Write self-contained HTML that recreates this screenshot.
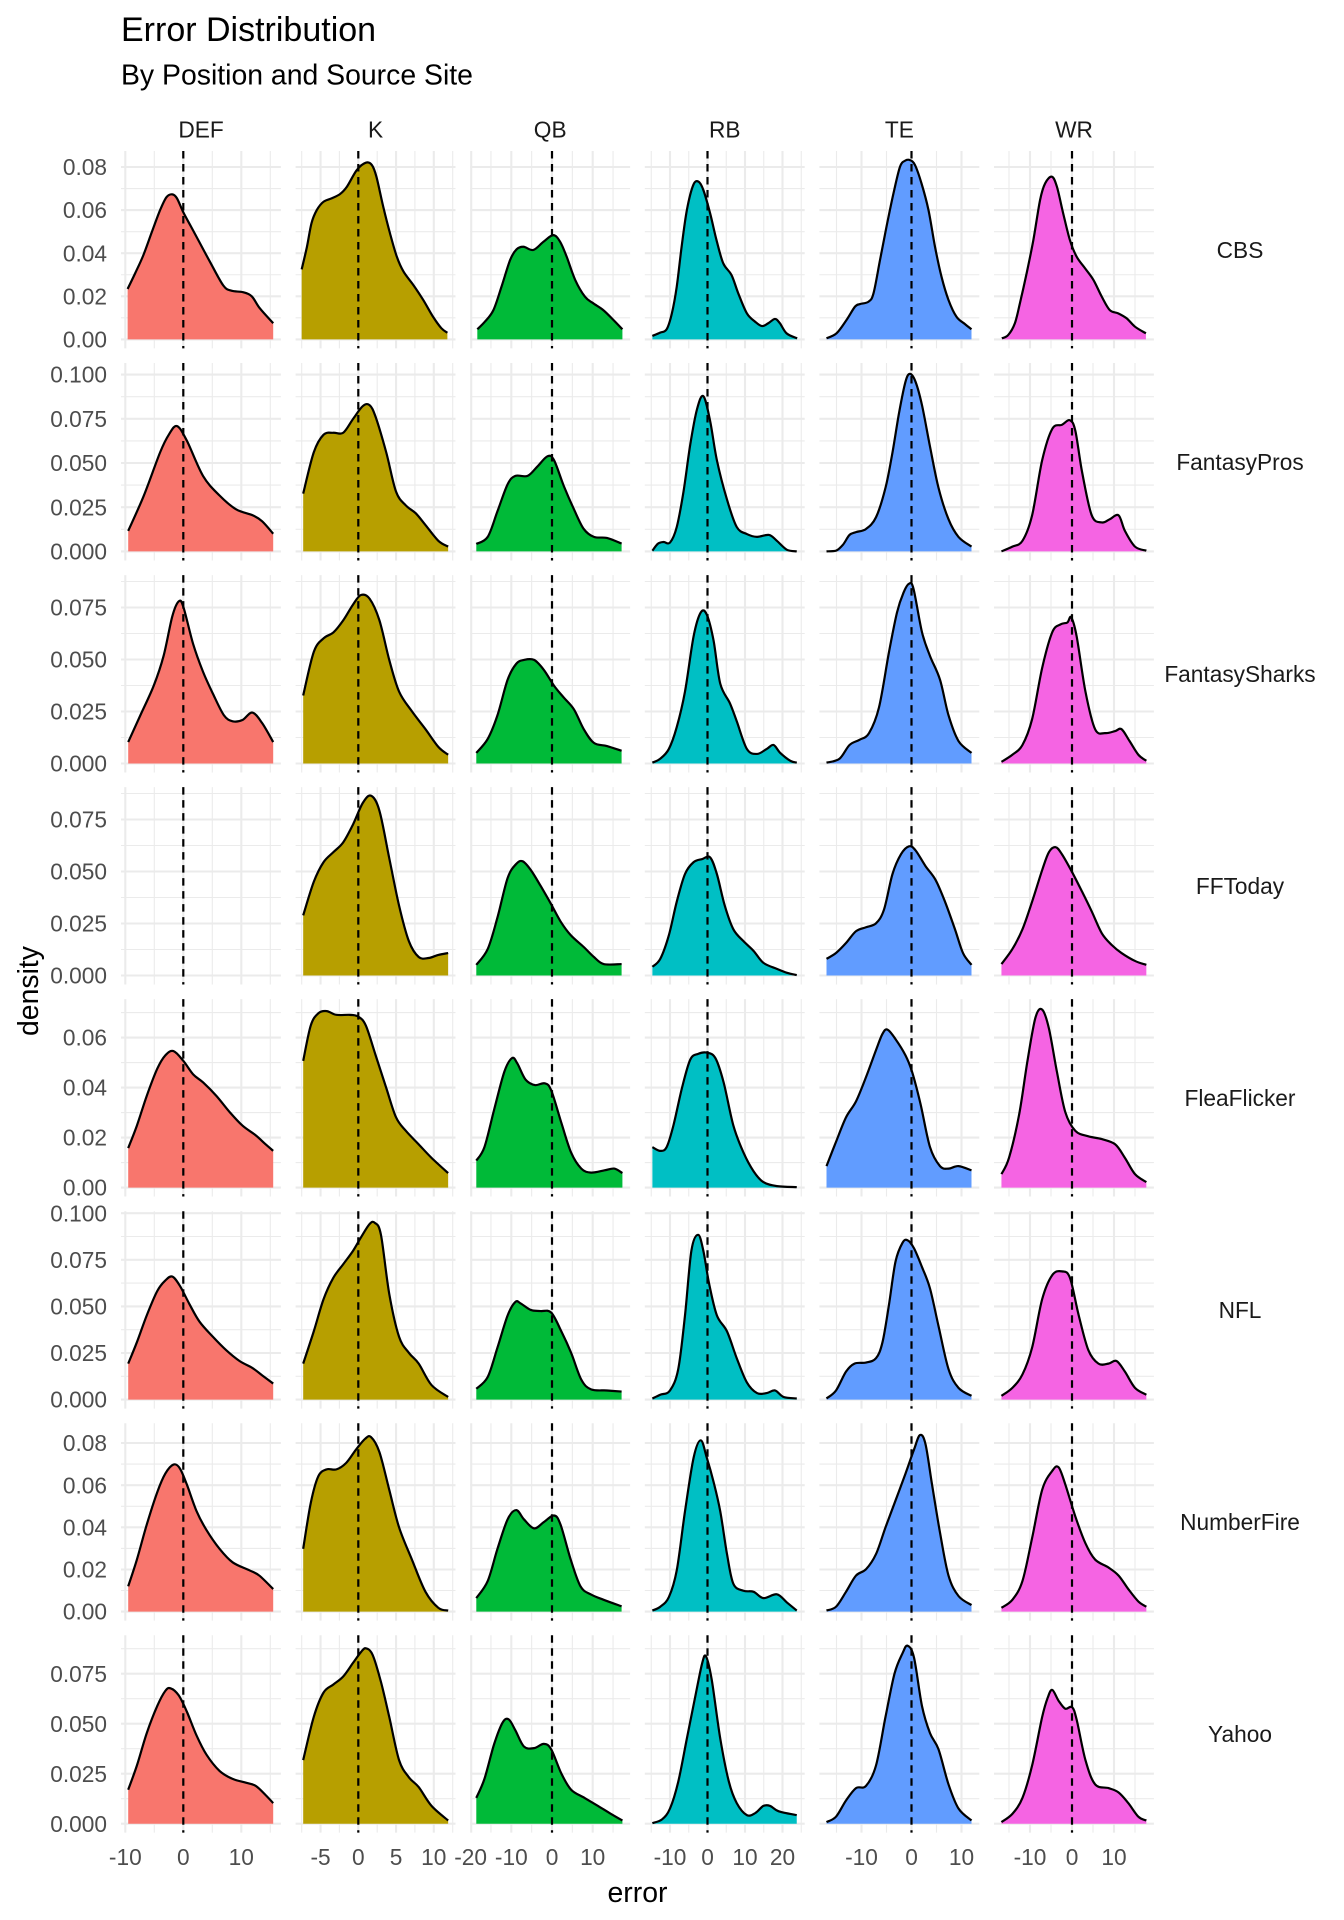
<!DOCTYPE html>
<html>
<head>
<meta charset="utf-8">
<style>
html,body{margin:0;padding:0;background:#fff;}
svg{display:block;}
text{font-family:"Liberation Sans",Arial,sans-serif;}
.c0{fill:#F8766D}.c1{fill:#B79F00}.c2{fill:#00BA38}.c3{fill:#00BFC4}.c4{fill:#619CFF}.c5{fill:#F564E3}
.o{fill:none;stroke:#000;stroke-width:2.2;vector-effect:non-scaling-stroke;stroke-linejoin:round}
.vmaj{stroke:#EBEBEB;stroke-width:2.1;stroke-dasharray:197.4 14.64}
.vmin{stroke:#EBEBEB;stroke-width:1.1;stroke-dasharray:197.4 14.64}
.hmaj{stroke:#EBEBEB;stroke-width:2.1;stroke-dasharray:159.9 14.7}
.hmin{stroke:#EBEBEB;stroke-width:1.1;stroke-dasharray:159.9 14.7}
.dz{stroke:#000;stroke-width:2.2;stroke-dasharray:7.5 5.5}
.yt{font-size:22.7px;fill:#4D4D4D;text-anchor:end}
.xt{font-size:22.7px;fill:#4D4D4D;text-anchor:middle}
.st{font-size:22.7px;fill:#1A1A1A;text-anchor:middle}
</style>
</head>
<body>
<svg id="chart" width="1344" height="1920" viewBox="0 0 1344 1920" xmlns="http://www.w3.org/2000/svg">
<rect width="1344" height="1920" fill="#fff"/>

<!-- vertical minor gridlines -->
<g class="vmin">
<line x1="154.3" y1="151" x2="154.3" y2="1834"/><line x1="212.3" y1="151" x2="212.3" y2="1834"/><line x1="270.3" y1="151" x2="270.3" y2="1834"/>
<line x1="301.7" y1="151" x2="301.7" y2="1834"/><line x1="339.4" y1="151" x2="339.4" y2="1834"/><line x1="377.2" y1="151" x2="377.2" y2="1834"/><line x1="414.9" y1="151" x2="414.9" y2="1834"/><line x1="452.7" y1="151" x2="452.7" y2="1834"/>
<line x1="490.95" y1="151" x2="490.95" y2="1834"/><line x1="531.65" y1="151" x2="531.65" y2="1834"/><line x1="572.35" y1="151" x2="572.35" y2="1834"/><line x1="613.05" y1="151" x2="613.05" y2="1834"/>
<line x1="651.25" y1="151" x2="651.25" y2="1834"/><line x1="688.75" y1="151" x2="688.75" y2="1834"/><line x1="726.25" y1="151" x2="726.25" y2="1834"/><line x1="763.75" y1="151" x2="763.75" y2="1834"/><line x1="801.25" y1="151" x2="801.25" y2="1834"/>
<line x1="836.5" y1="151" x2="836.5" y2="1834"/><line x1="886.5" y1="151" x2="886.5" y2="1834"/><line x1="936.5" y1="151" x2="936.5" y2="1834"/>
<line x1="1009" y1="151" x2="1009" y2="1834"/><line x1="1051" y1="151" x2="1051" y2="1834"/><line x1="1093" y1="151" x2="1093" y2="1834"/><line x1="1135" y1="151" x2="1135" y2="1834"/>
</g>
<!-- horizontal minor gridlines -->
<g class="hmin">
<line x1="121" y1="317.85" x2="1154" y2="317.85"/><line x1="121" y1="274.75" x2="1154" y2="274.75"/><line x1="121" y1="231.65" x2="1154" y2="231.65"/><line x1="121" y1="188.55" x2="1154" y2="188.55"/>
<line x1="121" y1="529.3" x2="1154" y2="529.3"/><line x1="121" y1="485.1" x2="1154" y2="485.1"/><line x1="121" y1="440.9" x2="1154" y2="440.9"/><line x1="121" y1="396.7" x2="1154" y2="396.7"/>
<line x1="121" y1="737.5" x2="1154" y2="737.5"/><line x1="121" y1="685.5" x2="1154" y2="685.5"/><line x1="121" y1="633.5" x2="1154" y2="633.5"/><line x1="121" y1="581.5" x2="1154" y2="581.5"/>
<line x1="121" y1="949.5" x2="1154" y2="949.5"/><line x1="121" y1="897.5" x2="1154" y2="897.5"/><line x1="121" y1="845.5" x2="1154" y2="845.5"/><line x1="121" y1="793.5" x2="1154" y2="793.5"/>
<line x1="121" y1="1162.6" x2="1154" y2="1162.6"/><line x1="121" y1="1112.6" x2="1154" y2="1112.6"/><line x1="121" y1="1062.6" x2="1154" y2="1062.6"/><line x1="121" y1="1012.6" x2="1154" y2="1012.6"/>
<line x1="121" y1="1376.3" x2="1154" y2="1376.3"/><line x1="121" y1="1329.7" x2="1154" y2="1329.7"/><line x1="121" y1="1283.1" x2="1154" y2="1283.1"/><line x1="121" y1="1236.5" x2="1154" y2="1236.5"/>
<line x1="121" y1="1590.5" x2="1154" y2="1590.5"/><line x1="121" y1="1548.4" x2="1154" y2="1548.4"/><line x1="121" y1="1506.3" x2="1154" y2="1506.3"/><line x1="121" y1="1464.1" x2="1154" y2="1464.1"/>
<line x1="121" y1="1798.7" x2="1154" y2="1798.7"/><line x1="121" y1="1748.7" x2="1154" y2="1748.7"/><line x1="121" y1="1698.7" x2="1154" y2="1698.7"/><line x1="121" y1="1648.7" x2="1154" y2="1648.7"/>
</g>
<!-- vertical major gridlines -->
<g class="vmaj">
<line x1="125.3" y1="151" x2="125.3" y2="1834"/><line x1="183.3" y1="151" x2="183.3" y2="1834"/><line x1="241.3" y1="151" x2="241.3" y2="1834"/>
<line x1="320.55" y1="151" x2="320.55" y2="1834"/><line x1="358.3" y1="151" x2="358.3" y2="1834"/><line x1="396.05" y1="151" x2="396.05" y2="1834"/><line x1="433.8" y1="151" x2="433.8" y2="1834"/>
<line x1="471.2" y1="151" x2="471.2" y2="1834"/><line x1="511.3" y1="151" x2="511.3" y2="1834"/><line x1="552" y1="151" x2="552" y2="1834"/><line x1="592.7" y1="151" x2="592.7" y2="1834"/>
<line x1="670" y1="151" x2="670" y2="1834"/><line x1="707.5" y1="151" x2="707.5" y2="1834"/><line x1="745" y1="151" x2="745" y2="1834"/><line x1="782.5" y1="151" x2="782.5" y2="1834"/>
<line x1="861.5" y1="151" x2="861.5" y2="1834"/><line x1="911.5" y1="151" x2="911.5" y2="1834"/><line x1="961.5" y1="151" x2="961.5" y2="1834"/>
<line x1="1030" y1="151" x2="1030" y2="1834"/><line x1="1072" y1="151" x2="1072" y2="1834"/><line x1="1114" y1="151" x2="1114" y2="1834"/>
</g>
<!-- horizontal major gridlines -->
<g class="hmaj">
<line x1="121" y1="339.4" x2="1154" y2="339.4"/><line x1="121" y1="296.3" x2="1154" y2="296.3"/><line x1="121" y1="253.2" x2="1154" y2="253.2"/><line x1="121" y1="210.1" x2="1154" y2="210.1"/><line x1="121" y1="167" x2="1154" y2="167"/>
<line x1="121" y1="551.4" x2="1154" y2="551.4"/><line x1="121" y1="507.2" x2="1154" y2="507.2"/><line x1="121" y1="463" x2="1154" y2="463"/><line x1="121" y1="418.8" x2="1154" y2="418.8"/><line x1="121" y1="374.6" x2="1154" y2="374.6"/>
<line x1="121" y1="763.5" x2="1154" y2="763.5"/><line x1="121" y1="711.5" x2="1154" y2="711.5"/><line x1="121" y1="659.5" x2="1154" y2="659.5"/><line x1="121" y1="607.5" x2="1154" y2="607.5"/>
<line x1="121" y1="975.5" x2="1154" y2="975.5"/><line x1="121" y1="923.5" x2="1154" y2="923.5"/><line x1="121" y1="871.5" x2="1154" y2="871.5"/><line x1="121" y1="819.5" x2="1154" y2="819.5"/>
<line x1="121" y1="1187.6" x2="1154" y2="1187.6"/><line x1="121" y1="1137.6" x2="1154" y2="1137.6"/><line x1="121" y1="1087.6" x2="1154" y2="1087.6"/><line x1="121" y1="1037.6" x2="1154" y2="1037.6"/>
<line x1="121" y1="1399.6" x2="1154" y2="1399.6"/><line x1="121" y1="1353" x2="1154" y2="1353"/><line x1="121" y1="1306.4" x2="1154" y2="1306.4"/><line x1="121" y1="1259.8" x2="1154" y2="1259.8"/><line x1="121" y1="1213.2" x2="1154" y2="1213.2"/>
<line x1="121" y1="1611.6" x2="1154" y2="1611.6"/><line x1="121" y1="1569.5" x2="1154" y2="1569.5"/><line x1="121" y1="1527.3" x2="1154" y2="1527.3"/><line x1="121" y1="1485.2" x2="1154" y2="1485.2"/><line x1="121" y1="1443" x2="1154" y2="1443"/>
<line x1="121" y1="1823.7" x2="1154" y2="1823.7"/><line x1="121" y1="1773.7" x2="1154" y2="1773.7"/><line x1="121" y1="1723.7" x2="1154" y2="1723.7"/><line x1="121" y1="1673.7" x2="1154" y2="1673.7"/>
</g>

<!-- ===== Row 0: CBS ===== -->
<g transform="translate(183.3,339.4) scale(5.8,-2.155)">
<path class="c0" d="M-9.6,0 L-9.6,23.4 -8.3,30.7 -6.9,39 -5.4,50 -4.0,60 -2.9,66 -1.9,67.3 -1.1,65.5 0,59 1.3,52.5 2.6,46 4.6,36 6.9,25 8.3,22.6 10.3,21.9 11.8,20 13.2,14.4 15.5,7.5 L15.5,0 Z"/>
<polyline class="o" points="-9.6,23.4 -8.3,30.7 -6.9,39 -5.4,50 -4.0,60 -2.9,66 -1.9,67.3 -1.1,65.5 0,59 1.3,52.5 2.6,46 4.6,36 6.9,25 8.3,22.6 10.3,21.9 11.8,20 13.2,14.4 15.5,7.5"/>
</g>
<g transform="translate(358.3,339.4) scale(7.55,-2.155)">
<path class="c1" d="M-7.5,0 L-7.5,32.5 -6.8,43 -6.2,53.9 -5.5,60 -4.6,63.9 -3.5,65.5 -2.4,67.5 -1.5,70.9 -0.2,78.6 1.0,82 1.8,80.9 2.4,75.5 3.3,61.6 4.2,49.2 5.1,38.4 6.0,31.4 7.3,25.2 8.6,18.3 9.9,10.5 11.0,5.2 11.8,3.1 L11.8,0 Z"/>
<polyline class="o" points="-7.5,32.5 -6.8,43 -6.2,53.9 -5.5,60 -4.6,63.9 -3.5,65.5 -2.4,67.5 -1.5,70.9 -0.2,78.6 1.0,82 1.8,80.9 2.4,75.5 3.3,61.6 4.2,49.2 5.1,38.4 6.0,31.4 7.3,25.2 8.6,18.3 9.9,10.5 11.0,5.2 11.8,3.1"/>
</g>
<g transform="translate(552,339.4) scale(4.07,-2.155)">
<path class="c2" d="M-18.35,0 L-18.35,4.7 -16.5,8.2 -14.4,13.6 -12.4,24.5 -10.3,36.8 -8.7,41.8 -7.0,43 -4.6,41.5 -2.1,45.3 0.3,48.4 2.0,45.3 3.6,38.4 5.7,27.6 8.1,19.8 10.1,16.8 12.6,13.6 15.1,9 17.3,4.7 L17.3,0 Z"/>
<polyline class="o" points="-18.35,4.7 -16.5,8.2 -14.4,13.6 -12.4,24.5 -10.3,36.8 -8.7,41.8 -7.0,43 -4.6,41.5 -2.1,45.3 0.3,48.4 2.0,45.3 3.6,38.4 5.7,27.6 8.1,19.8 10.1,16.8 12.6,13.6 15.1,9 17.3,4.7"/>
</g>
<g transform="translate(707.5,339.4) scale(3.75,-2.155)">
<path class="c3" d="M-14.7,0 L-14.7,1.6 -12.7,3.1 -10.9,4.7 -9.5,12.1 -8.2,24.5 -6.9,43 -5.5,60 -3.8,71.6 -2.4,73.2 -1.1,69.3 0.7,58.5 2.4,46.1 4.2,35.3 6.4,29.9 8.2,21.4 10.5,12.1 12.7,8.2 14.5,6.2 16.2,7.5 18.0,9.5 19.3,7.5 21.1,2.8 23.9,0.5 L23.9,0 Z"/>
<polyline class="o" points="-14.7,1.6 -12.7,3.1 -10.9,4.7 -9.5,12.1 -8.2,24.5 -6.9,43 -5.5,60 -3.8,71.6 -2.4,73.2 -1.1,69.3 0.7,58.5 2.4,46.1 4.2,35.3 6.4,29.9 8.2,21.4 10.5,12.1 12.7,8.2 14.5,6.2 16.2,7.5 18.0,9.5 19.3,7.5 21.1,2.8 23.9,0.5"/>
</g>
<g transform="translate(911.5,339.4) scale(5,-2.155)">
<path class="c4" d="M-17,0 L-17,0.5 -15,2.8 -13,9 -11.3,15.2 -10.3,16.4 -8.6,17.5 -7.6,21.4 -6.3,36.8 -5.0,52.3 -3.6,67.8 -2.3,80.1 -1.3,82.9 -0.3,83.2 0.7,80.9 2.0,72.4 3.4,60 4.7,43 6.0,29.1 7.4,18.3 9.0,10.5 10.7,7.1 12.0,4.7 L12.0,0 Z"/>
<polyline class="o" points="-17,0.5 -15,2.8 -13,9 -11.3,15.2 -10.3,16.4 -8.6,17.5 -7.6,21.4 -6.3,36.8 -5.0,52.3 -3.6,67.8 -2.3,80.1 -1.3,82.9 -0.3,83.2 0.7,80.9 2.0,72.4 3.4,60 4.7,43 6.0,29.1 7.4,18.3 9.0,10.5 10.7,7.1 12.0,4.7"/>
</g>
<g transform="translate(1072,339.4) scale(4.2,-2.155)">
<path class="c5" d="M-16.7,0 L-16.7,0.5 -15.2,2 -13.6,7.5 -12.4,16.8 -10.8,30.7 -9.2,46.1 -7.6,64.7 -6.4,72.4 -4.8,75.5 -3.6,70.9 -2.1,58.5 -0.5,46.1 1.1,38.4 3.1,33 5.1,27.6 7.1,19.8 9.0,13.6 11.0,12.1 13.0,9.8 15.0,5.9 17.6,2.8 L17.6,0 Z"/>
<polyline class="o" points="-16.7,0.5 -15.2,2 -13.6,7.5 -12.4,16.8 -10.8,30.7 -9.2,46.1 -7.6,64.7 -6.4,72.4 -4.8,75.5 -3.6,70.9 -2.1,58.5 -0.5,46.1 1.1,38.4 3.1,33 5.1,27.6 7.1,19.8 9.0,13.6 11.0,12.1 13.0,9.8 15.0,5.9 17.6,2.8"/>
</g>

<!-- ===== Row 1: FantasyPros ===== -->
<g transform="translate(183.3,551.4) scale(5.8,-1.768)">
<path class="c0" d="M-9.5,0 L-9.5,11.6 -6.8,31.6 -4.0,56 -2.5,66 -1.1,70.9 0.6,62.7 3.4,42.7 6.25,31.6 9.1,23.8 12,20.4 13.6,17 15.5,10 L15.5,0 Z"/>
<polyline class="o" points="-9.5,11.6 -6.8,31.6 -4.0,56 -2.5,66 -1.1,70.9 0.6,62.7 3.4,42.7 6.25,31.6 9.1,23.8 12,20.4 13.6,17 15.5,10"/>
</g>
<g transform="translate(358.3,551.4) scale(7.55,-1.768)">
<path class="c1" d="M-7.3,0 L-7.3,32.7 -5.9,56 -4.6,66 -3.3,67.1 -2.0,67.1 -0.7,74.9 0.6,82.2 1.5,82.7 2.3,76 3.7,56 5.0,33.8 6.3,26 7.6,21.6 8.9,14.9 10.6,6 11.9,2.7 L11.9,0 Z"/>
<polyline class="o" points="-7.3,32.7 -5.9,56 -4.6,66 -3.3,67.1 -2.0,67.1 -0.7,74.9 0.6,82.2 1.5,82.7 2.3,76 3.7,56 5.0,33.8 6.3,26 7.6,21.6 8.9,14.9 10.6,6 11.9,2.7"/>
</g>
<g transform="translate(552,551.4) scale(4.07,-1.768)">
<path class="c2" d="M-18.6,0 L-18.6,4.2 -15.8,8.2 -13.4,22.7 -10.9,38 -9.0,42.7 -6.0,42.7 -3.6,48 -1.1,53.8 0.5,51.6 2.9,37 5.4,23.8 7.8,12.7 10.3,8.2 13.5,7.6 17.1,4.4 L17.1,0 Z"/>
<polyline class="o" points="-18.6,4.2 -15.8,8.2 -13.4,22.7 -10.9,38 -9.0,42.7 -6.0,42.7 -3.6,48 -1.1,53.8 0.5,51.6 2.9,37 5.4,23.8 7.8,12.7 10.3,8.2 13.5,7.6 17.1,4.4"/>
</g>
<g transform="translate(707.5,551.4) scale(3.75,-1.768)">
<path class="c3" d="M-14.7,0 L-14.7,0.4 -13.2,4.4 -11.7,5.3 -10,5 -8.2,13.8 -6.4,33.8 -4.6,60.4 -2.8,80.4 -1.1,87.8 0.7,73.8 2.5,51.6 5.2,29.3 7.8,13.8 10.5,9.8 13.2,8.2 16.4,9.3 18.5,6 21.2,0.9 23.8,0 Z"/>
<polyline class="o" points="-14.7,0.4 -13.2,4.4 -11.7,5.3 -10,5 -8.2,13.8 -6.4,33.8 -4.6,60.4 -2.8,80.4 -1.1,87.8 0.7,73.8 2.5,51.6 5.2,29.3 7.8,13.8 10.5,9.8 13.2,8.2 16.4,9.3 18.5,6 21.2,0.9 23.8,0"/>
</g>
<g transform="translate(911.5,551.4) scale(5,-1.768)">
<path class="c4" d="M-17,0 L-15.1,0.4 -13.7,3.8 -12.4,9.3 -11.1,10.9 -9.1,12.7 -7.1,19.3 -5.2,36 -3.8,56 -2.5,78.2 -1.2,96 -0.3,100.4 0.8,96 2.1,82.7 3.7,59.3 5.4,36 7.4,18.2 9.4,8.2 12.0,2.7 L12.0,0 Z"/>
<polyline class="o" points="-17,0 -15.1,0.4 -13.7,3.8 -12.4,9.3 -11.1,10.9 -9.1,12.7 -7.1,19.3 -5.2,36 -3.8,56 -2.5,78.2 -1.2,96 -0.3,100.4 0.8,96 2.1,82.7 3.7,59.3 5.4,36 7.4,18.2 9.4,8.2 12.0,2.7"/>
</g>
<g transform="translate(1072,551.4) scale(4.2,-1.768)">
<path class="c5" d="M-16.8,0 L-14.2,2.7 -11.8,6 -9.5,20.4 -7.1,51.6 -4.7,69.3 -2.4,71.6 -0.5,74.2 0.8,68.2 2.4,44.9 4.7,20.4 7.1,16.4 9.0,18.2 11.1,20.4 12.6,11.6 15.0,2.7 17.7,0.4 L17.7,0 Z"/>
<polyline class="o" points="-16.8,0 -14.2,2.7 -11.8,6 -9.5,20.4 -7.1,51.6 -4.7,69.3 -2.4,71.6 -0.5,74.2 0.8,68.2 2.4,44.9 4.7,20.4 7.1,16.4 9.0,18.2 11.1,20.4 12.6,11.6 15.0,2.7 17.7,0.4"/>
</g>

<!-- ===== Row 2: FantasySharks ===== -->
<g transform="translate(183.3,763.5) scale(5.8,-2.08)">
<path class="c0" d="M-9.5,0 L-9.5,10.3 -7.4,23.2 -5.1,37.4 -3.4,51.7 -1.9,70.7 -0.8,77.9 0,75.4 1.7,57.4 3.4,44.1 5.1,33.6 7.0,23.2 8.5,20.3 10.2,20.9 11.9,24.5 13.6,19.4 15.5,10.3 L15.5,0 Z"/>
<polyline class="o" points="-9.5,10.3 -7.4,23.2 -5.1,37.4 -3.4,51.7 -1.9,70.7 -0.8,77.9 0,75.4 1.7,57.4 3.4,44.1 5.1,33.6 7.0,23.2 8.5,20.3 10.2,20.9 11.9,24.5 13.6,19.4 15.5,10.3"/>
</g>
<g transform="translate(358.3,763.5) scale(7.55,-2.08)">
<path class="c1" d="M-7.3,0 L-7.3,32.7 -5.9,53.6 -4.6,60.2 -3.3,63 -2.0,68.8 -0.7,76.4 0.35,81 1.5,79.2 2.8,68.8 4.1,49.8 5.4,34.6 7.1,25.1 8.9,16.5 10.6,8 11.9,4.2 L11.9,0 Z"/>
<polyline class="o" points="-7.3,32.7 -5.9,53.6 -4.6,60.2 -3.3,63 -2.0,68.8 -0.7,76.4 0.35,81 1.5,79.2 2.8,68.8 4.1,49.8 5.4,34.6 7.1,25.1 8.9,16.5 10.6,8 11.9,4.2"/>
</g>
<g transform="translate(552,763.5) scale(4.07,-2.08)">
<path class="c2" d="M-18.6,0 L-18.6,5.1 -15.8,11.8 -13.4,23.2 -10.9,40.3 -8.8,47.9 -6.9,49.8 -4.4,49.8 -2.0,45 0.5,37.4 2.9,31.7 5.4,26 7.8,16.5 10.3,9.9 13.5,8.4 17.1,6.1 L17.1,0 Z"/>
<polyline class="o" points="-18.6,5.1 -15.8,11.8 -13.4,23.2 -10.9,40.3 -8.8,47.9 -6.9,49.8 -4.4,49.8 -2.0,45 0.5,37.4 2.9,31.7 5.4,26 7.8,16.5 10.3,9.9 13.5,8.4 17.1,6.1"/>
</g>
<g transform="translate(707.5,763.5) scale(3.75,-2.08)">
<path class="c3" d="M-14.7,0 L-14.7,0.4 -12.6,2.3 -10.3,7 -8.2,17.5 -6.0,34.6 -3.7,61.2 -1.8,72.6 -0.2,71.6 1.6,59.3 3.4,38.4 6.0,28.9 7.8,20.3 10.5,7 13.2,4.6 15.8,7 17.6,8.9 19.4,5.1 22.1,1.3 23.8,0.4 L23.8,0 Z"/>
<polyline class="o" points="-14.7,0.4 -12.6,2.3 -10.3,7 -8.2,17.5 -6.0,34.6 -3.7,61.2 -1.8,72.6 -0.2,71.6 1.6,59.3 3.4,38.4 6.0,28.9 7.8,20.3 10.5,7 13.2,4.6 15.8,7 17.6,8.9 19.4,5.1 22.1,1.3 23.8,0.4"/>
</g>
<g transform="translate(911.5,763.5) scale(5,-2.08)">
<path class="c4" d="M-17,0 L-17,0.4 -14.4,2.3 -12.4,8.9 -10.4,11.4 -8.5,14.6 -6.5,27 -4.5,53.6 -2.9,72.6 -1.6,82.1 -0.5,86.4 0.4,84 2.1,63.1 3.7,51.7 5.7,40.3 7.4,23.2 9.4,10.8 12.0,5.1 L12.0,0 Z"/>
<polyline class="o" points="-17,0.4 -14.4,2.3 -12.4,8.9 -10.4,11.4 -8.5,14.6 -6.5,27 -4.5,53.6 -2.9,72.6 -1.6,82.1 -0.5,86.4 0.4,84 2.1,63.1 3.7,51.7 5.7,40.3 7.4,23.2 9.4,10.8 12.0,5.1"/>
</g>
<g transform="translate(1072,763.5) scale(4.2,-2.08)">
<path class="c5" d="M-16.8,0 L-16.8,0.8 -14.2,4.2 -11.8,8.9 -9.5,21.3 -7.1,46 -4.7,63.1 -2.7,66.9 -1.1,67.8 -0.2,70.3 1.1,61.2 3.2,34.6 5.5,16.5 7.9,14.6 10.3,15.6 11.8,16.5 13.7,10.8 15.8,4.2 17.7,1.3 L17.7,0 Z"/>
<polyline class="o" points="-16.8,0.8 -14.2,4.2 -11.8,8.9 -9.5,21.3 -7.1,46 -4.7,63.1 -2.7,66.9 -1.1,67.8 -0.2,70.3 1.1,61.2 3.2,34.6 5.5,16.5 7.9,14.6 10.3,15.6 11.8,16.5 13.7,10.8 15.8,4.2 17.7,1.3"/>
</g>

<!-- ===== Row 3: FFToday ===== -->
<g transform="translate(358.3,975.5) scale(7.55,-2.08)">
<path class="c1" d="M-7.3,0 L-7.3,28.9 -5.9,45 -4.6,54.5 -3.3,59.3 -2.0,64 -0.7,72.6 0.6,83 1.7,86.4 2.8,79.2 4.1,56.4 5.4,33.6 6.7,16.5 8.0,8.9 9.3,8.4 10.6,9.9 11.9,10.8 L11.9,0 Z"/>
<polyline class="o" points="-7.3,28.9 -5.9,45 -4.6,54.5 -3.3,59.3 -2.0,64 -0.7,72.6 0.6,83 1.7,86.4 2.8,79.2 4.1,56.4 5.4,33.6 6.7,16.5 8.0,8.9 9.3,8.4 10.6,9.9 11.9,10.8"/>
</g>
<g transform="translate(552,975.5) scale(4.07,-2.08)">
<path class="c2" d="M-18.6,0 L-18.6,5.1 -15.8,12.7 -13.4,27.9 -10.9,46.9 -8.8,53.6 -7.2,54.9 -5.2,50.7 -2.8,43.1 -0.3,34.6 2.1,26 4.6,19.4 7.8,13.7 10.3,8.9 12.7,5.5 17.1,5.5 L17.1,0 Z"/>
<polyline class="o" points="-18.6,5.1 -15.8,12.7 -13.4,27.9 -10.9,46.9 -8.8,53.6 -7.2,54.9 -5.2,50.7 -2.8,43.1 -0.3,34.6 2.1,26 4.6,19.4 7.8,13.7 10.3,8.9 12.7,5.5 17.1,5.5"/>
</g>
<g transform="translate(707.5,975.5) scale(3.75,-2.08)">
<path class="c3" d="M-14.7,0 L-14.7,4.2 -12.6,8 -10.3,19.4 -8.2,35.5 -6.0,48.8 -3.7,54.5 -1.4,56 0.7,56.8 2.5,48.8 4.6,33.6 6.9,22.2 9.6,16.5 12.3,11.8 14.9,6.1 18.5,3.2 21.2,1.3 23.8,0.2 L23.8,0 Z"/>
<polyline class="o" points="-14.7,4.2 -12.6,8 -10.3,19.4 -8.2,35.5 -6.0,48.8 -3.7,54.5 -1.4,56 0.7,56.8 2.5,48.8 4.6,33.6 6.9,22.2 9.6,16.5 12.3,11.8 14.9,6.1 18.5,3.2 21.2,1.3 23.8,0.2"/>
</g>
<g transform="translate(911.5,975.5) scale(5,-2.08)">
<path class="c4" d="M-17,0 L-17,8 -15.1,10.8 -13.1,15.6 -11.1,21.3 -9.1,23.2 -7.1,25.1 -5.5,31.7 -3.8,48.8 -2.1,58.3 -0.5,62.1 0.8,60.2 2.8,52.6 4.8,46 6.7,35.5 8.7,22.2 10.3,10.8 12.0,5.1 L12.0,0 Z"/>
<polyline class="o" points="-17,8 -15.1,10.8 -13.1,15.6 -11.1,21.3 -9.1,23.2 -7.1,25.1 -5.5,31.7 -3.8,48.8 -2.1,58.3 -0.5,62.1 0.8,60.2 2.8,52.6 4.8,46 6.7,35.5 8.7,22.2 10.3,10.8 12.0,5.1"/>
</g>
<g transform="translate(1072,975.5) scale(4.2,-2.08)">
<path class="c5" d="M-16.8,0 L-16.8,5.5 -14.2,12.7 -11.8,22.2 -9.5,35.5 -7.1,50.7 -5.5,59.3 -3.9,61.7 -2.4,58.3 0,49.8 2.4,40.3 4.7,30.8 7.1,20.3 9.5,14.6 11.8,10.8 15.0,7 17.7,5.1 L17.7,0 Z"/>
<polyline class="o" points="-16.8,5.5 -14.2,12.7 -11.8,22.2 -9.5,35.5 -7.1,50.7 -5.5,59.3 -3.9,61.7 -2.4,58.3 0,49.8 2.4,40.3 4.7,30.8 7.1,20.3 9.5,14.6 11.8,10.8 15.0,7 17.7,5.1"/>
</g>

<!-- ===== Row 4: FleaFlicker ===== -->
<g transform="translate(183.3,1187.6) scale(5.8,-2.5)">
<path class="c0" d="M-9.5,0 L-9.5,15.8 -8.0,24.8 -6.3,36.7 -4.5,47.5 -3.1,52.9 -1.7,54.6 0,50.7 1.7,45.3 3.4,42.1 5.7,36.7 8.0,30.2 10.2,24.8 12.5,20.9 14.2,17.3 15.5,14.7 L15.5,0 Z"/>
<polyline class="o" points="-9.5,15.8 -8.0,24.8 -6.3,36.7 -4.5,47.5 -3.1,52.9 -1.7,54.6 0,50.7 1.7,45.3 3.4,42.1 5.7,36.7 8.0,30.2 10.2,24.8 12.5,20.9 14.2,17.3 15.5,14.7"/>
</g>
<g transform="translate(358.3,1187.6) scale(7.55,-2.5)">
<path class="c1" d="M-7.3,0 L-7.3,50.7 -6.3,64.8 -5.3,69.7 -4.2,70.6 -2.9,69.1 -1.1,69.1 0,68.4 1.0,64.8 2.3,52.9 3.7,39.9 5.0,28.1 6.3,22.7 8.0,17.3 9.7,11.9 11.9,5.8 L11.9,0 Z"/>
<polyline class="o" points="-7.3,50.7 -6.3,64.8 -5.3,69.7 -4.2,70.6 -2.9,69.1 -1.1,69.1 0,68.4 1.0,64.8 2.3,52.9 3.7,39.9 5.0,28.1 6.3,22.7 8.0,17.3 9.7,11.9 11.9,5.8"/>
</g>
<g transform="translate(552,1187.6) scale(4.07,-2.5)">
<path class="c2" d="M-18.6,0 L-18.6,10.8 -16.6,16.2 -14.2,31.3 -11.7,46.4 -9.8,51.8 -8.5,49.6 -6.5,43.2 -4.2,41 -1.8,41.7 -0.2,38.9 2.3,25.9 4.7,14 7.2,7.6 9.6,6 12.9,6.9 15.3,7.6 17.3,5.8 L17.3,0 Z"/>
<polyline class="o" points="-18.6,10.8 -16.6,16.2 -14.2,31.3 -11.7,46.4 -9.8,51.8 -8.5,49.6 -6.5,43.2 -4.2,41 -1.8,41.7 -0.2,38.9 2.3,25.9 4.7,14 7.2,7.6 9.6,6 12.9,6.9 15.3,7.6 17.3,5.8"/>
</g>
<g transform="translate(707.5,1187.6) scale(3.75,-2.5)">
<path class="c3" d="M-14.7,0 L-14.7,16.2 -12.6,14.7 -10.9,16.2 -9.1,24.8 -6.8,39.9 -4.6,51.2 -2.5,53.5 -0.2,54 2.1,51.8 4.3,42.1 6.9,24.8 9.6,14 12.3,6.5 14.9,2.2 18.5,0.6 23.8,0.2 L23.8,0 Z"/>
<polyline class="o" points="-14.7,16.2 -12.6,14.7 -10.9,16.2 -9.1,24.8 -6.8,39.9 -4.6,51.2 -2.5,53.5 -0.2,54 2.1,51.8 4.3,42.1 6.9,24.8 9.6,14 12.3,6.5 14.9,2.2 18.5,0.6 23.8,0.2"/>
</g>
<g transform="translate(911.5,1187.6) scale(5,-2.5)">
<path class="c4" d="M-17,0 L-17,8.6 -15.1,18.3 -13.1,28.1 -11.1,34.5 -9.1,44.2 -7.1,55 -5.8,61.5 -4.8,63.2 -3.2,59.4 -1.2,52.9 0.1,46.4 1.8,33.5 3.7,16.2 5.7,8.6 7.4,7.6 9.4,8.6 12.0,6.9 L12.0,0 Z"/>
<polyline class="o" points="-17,8.6 -15.1,18.3 -13.1,28.1 -11.1,34.5 -9.1,44.2 -7.1,55 -5.8,61.5 -4.8,63.2 -3.2,59.4 -1.2,52.9 0.1,46.4 1.8,33.5 3.7,16.2 5.7,8.6 7.4,7.6 9.4,8.6 12.0,6.9"/>
</g>
<g transform="translate(1072,1187.6) scale(4.2,-2.5)">
<path class="c5" d="M-16.8,0 L-16.8,5.4 -15.0,11.9 -12.6,29.1 -10.6,50.7 -8.7,68 -7.1,71.2 -5.5,63.7 -3.6,46.4 -1.6,30.2 0.8,22.7 3.9,20.5 7.1,19.4 10.3,17.3 12.6,11.9 15.0,5.4 17.7,2.2 L17.7,0 Z"/>
<polyline class="o" points="-16.8,5.4 -15.0,11.9 -12.6,29.1 -10.6,50.7 -8.7,68 -7.1,71.2 -5.5,63.7 -3.6,46.4 -1.6,30.2 0.8,22.7 3.9,20.5 7.1,19.4 10.3,17.3 12.6,11.9 15.0,5.4 17.7,2.2"/>
</g>

<!-- ===== Row 5: NFL ===== -->
<g transform="translate(183.3,1399.6) scale(5.8,-1.864)">
<path class="c0" d="M-9.5,0 L-9.5,19.3 -8.0,30.8 -6.3,45.2 -4.5,58.2 -3.1,63.9 -1.9,66 -0.6,61.1 1.1,51 2.8,41.8 5.1,33.7 7.4,26.5 9.7,20.7 11.9,17 13.6,13 15.5,8.6 L15.5,0 Z"/>
<polyline class="o" points="-9.5,19.3 -8.0,30.8 -6.3,45.2 -4.5,58.2 -3.1,63.9 -1.9,66 -0.6,61.1 1.1,51 2.8,41.8 5.1,33.7 7.4,26.5 9.7,20.7 11.9,17 13.6,13 15.5,8.6"/>
</g>
<g transform="translate(358.3,1399.6) scale(7.55,-1.864)">
<path class="c1" d="M-7.3,0 L-7.3,19.3 -5.9,36.6 -4.6,53.9 -3.3,65.4 -2.0,72.6 -0.7,79.8 0.35,87 1.5,94.2 2.2,94.8 3.0,88.4 4.1,56.7 5.4,33.7 6.7,25.1 8.0,19.3 9.7,7.8 11.9,1.4 L11.9,0 Z"/>
<polyline class="o" points="-7.3,19.3 -5.9,36.6 -4.6,53.9 -3.3,65.4 -2.0,72.6 -0.7,79.8 0.35,87 1.5,94.2 2.2,94.8 3.0,88.4 4.1,56.7 5.4,33.7 6.7,25.1 8.0,19.3 9.7,7.8 11.9,1.4"/>
</g>
<g transform="translate(552,1399.6) scale(4.07,-1.864)">
<path class="c2" d="M-18.6,0 L-18.6,5.8 -15.8,12.1 -13.4,27.9 -10.9,45.2 -9.0,52.4 -7.7,51.6 -5.2,48.1 -2.8,47.5 -0.2,46.7 2.3,36.6 4.7,25.1 7.2,10.7 9.6,5.5 13.5,4.9 17.1,4.3 L17.1,0 Z"/>
<polyline class="o" points="-18.6,5.8 -15.8,12.1 -13.4,27.9 -10.9,45.2 -9.0,52.4 -7.7,51.6 -5.2,48.1 -2.8,47.5 -0.2,46.7 2.3,36.6 4.7,25.1 7.2,10.7 9.6,5.5 13.5,4.9 17.1,4.3"/>
</g>
<g transform="translate(707.5,1399.6) scale(3.75,-1.864)">
<path class="c3" d="M-14.7,0 L-14.7,0.6 -12.6,2.6 -10,4.9 -7.8,16.4 -6.0,45.2 -4.3,79.8 -2.5,88.4 -1.1,79.8 0.4,62.5 2.5,45.2 5.2,36.6 7.8,22.2 10.5,9.2 13.2,3.5 15.8,3.5 18.0,4.9 20.3,1.4 23.8,0.6 L23.8,0 Z"/>
<polyline class="o" points="-14.7,0.6 -12.6,2.6 -10,4.9 -7.8,16.4 -6.0,45.2 -4.3,79.8 -2.5,88.4 -1.1,79.8 0.4,62.5 2.5,45.2 5.2,36.6 7.8,22.2 10.5,9.2 13.2,3.5 15.8,3.5 18.0,4.9 20.3,1.4 23.8,0.6"/>
</g>
<g transform="translate(911.5,1399.6) scale(5,-1.864)">
<path class="c4" d="M-17,0 L-17,0.6 -15.1,4.9 -13.1,15 -11.4,19.3 -9.1,19.9 -7.1,22.2 -5.8,30.8 -4.5,51 -3.2,74 -1.8,84.1 -0.8,85.5 0.5,81.2 2.1,71.1 3.7,59.6 5.4,39.5 7.4,16.4 9.4,6.3 12.0,2 L12.0,0 Z"/>
<polyline class="o" points="-17,0.6 -15.1,4.9 -13.1,15 -11.4,19.3 -9.1,19.9 -7.1,22.2 -5.8,30.8 -4.5,51 -3.2,74 -1.8,84.1 -0.8,85.5 0.5,81.2 2.1,71.1 3.7,59.6 5.4,39.5 7.4,16.4 9.4,6.3 12.0,2"/>
</g>
<g transform="translate(1072,1399.6) scale(4.2,-1.864)">
<path class="c5" d="M-16.8,0 L-16.8,2 -14.2,6.3 -11.8,13.5 -9.5,27.9 -7.1,53.9 -4.7,66.8 -2.4,68.8 -0.5,65.4 1.6,45.2 3.9,26.5 6.3,19.3 8.7,19.3 10.6,20.7 12.6,15 15.0,6.3 17.7,2.6 L17.7,0 Z"/>
<polyline class="o" points="-16.8,2 -14.2,6.3 -11.8,13.5 -9.5,27.9 -7.1,53.9 -4.7,66.8 -2.4,68.8 -0.5,65.4 1.6,45.2 3.9,26.5 6.3,19.3 8.7,19.3 10.6,20.7 12.6,15 15.0,6.3 17.7,2.6"/>
</g>

<!-- ===== Row 6: NumberFire ===== -->
<g transform="translate(183.3,1611.6) scale(5.8,-2.107)">
<path class="c0" d="M-9.5,0 L-9.5,12 -8.0,24.7 -6.3,41.3 -4.5,56.6 -3.1,65.5 -1.7,69.8 -0.6,68 0.6,60.4 2.3,47.6 4.0,38.7 6.25,29.8 8.5,23.4 11.4,19.6 13.1,17.1 15.5,10.7 L15.5,0 Z"/>
<polyline class="o" points="-9.5,12 -8.0,24.7 -6.3,41.3 -4.5,56.6 -3.1,65.5 -1.7,69.8 -0.6,68 0.6,60.4 2.3,47.6 4.0,38.7 6.25,29.8 8.5,23.4 11.4,19.6 13.1,17.1 15.5,10.7"/>
</g>
<g transform="translate(358.3,1611.6) scale(7.55,-2.107)">
<path class="c1" d="M-7.3,0 L-7.3,29.8 -6.3,51.5 -5.3,64.2 -4.2,67.5 -2.9,67.5 -1.6,70.6 -0.3,76.9 0.9,82 1.7,82.8 2.8,75.7 4.1,57.8 5.4,40 7.1,24.7 8.9,9.4 10.6,1.8 11.9,0.5 L11.9,0 Z"/>
<polyline class="o" points="-7.3,29.8 -6.3,51.5 -5.3,64.2 -4.2,67.5 -2.9,67.5 -1.6,70.6 -0.3,76.9 0.9,82 1.7,82.8 2.8,75.7 4.1,57.8 5.4,40 7.1,24.7 8.9,9.4 10.6,1.8 11.9,0.5"/>
</g>
<g transform="translate(552,1611.6) scale(4.07,-2.107)">
<path class="c2" d="M-18.6,0 L-18.6,6.4 -15.8,14.5 -13.4,29.8 -10.9,43.8 -8.8,48.2 -6.9,43.8 -4.4,39.5 -2.0,42.5 0.5,45.6 2.1,41.3 4.6,24.7 7.0,12 9.5,8.2 12.7,5.6 17.1,2.5 L17.1,0 Z"/>
<polyline class="o" points="-18.6,6.4 -15.8,14.5 -13.4,29.8 -10.9,43.8 -8.8,48.2 -6.9,43.8 -4.4,39.5 -2.0,42.5 0.5,45.6 2.1,41.3 4.6,24.7 7.0,12 9.5,8.2 12.7,5.6 17.1,2.5"/>
</g>
<g transform="translate(707.5,1611.6) scale(3.75,-2.107)">
<path class="c3" d="M-14.7,0 L-14.7,0.5 -12.6,2.3 -10.3,6.9 -8.2,19.6 -6.0,47.6 -3.7,73.1 -1.8,81.3 -0.2,73.1 1.6,61.7 3.4,47.6 5.2,27.3 6.9,13.2 9.6,9.9 12.3,9.4 14.9,6.4 18.5,8.2 21.2,4.3 23.8,0.5 L23.8,0 Z"/>
<polyline class="o" points="-14.7,0.5 -12.6,2.3 -10.3,6.9 -8.2,19.6 -6.0,47.6 -3.7,73.1 -1.8,81.3 -0.2,73.1 1.6,61.7 3.4,47.6 5.2,27.3 6.9,13.2 9.6,9.9 12.3,9.4 14.9,6.4 18.5,8.2 21.2,4.3 23.8,0.5"/>
</g>
<g transform="translate(911.5,1611.6) scale(5,-2.107)">
<path class="c4" d="M-17,0 L-17,0.5 -15.1,2.3 -13.1,9.4 -11.1,17.1 -9.1,20.1 -7.1,27.3 -5.2,40 -3.2,52.7 -1.2,65.5 0.5,76.9 1.7,83.8 2.8,79.5 4.1,60.4 5.7,37.5 7.4,17.1 9.4,7.4 12.0,3.1 L12.0,0 Z"/>
<polyline class="o" points="-17,0.5 -15.1,2.3 -13.1,9.4 -11.1,17.1 -9.1,20.1 -7.1,27.3 -5.2,40 -3.2,52.7 -1.2,65.5 0.5,76.9 1.7,83.8 2.8,79.5 4.1,60.4 5.7,37.5 7.4,17.1 9.4,7.4 12.0,3.1"/>
</g>
<g transform="translate(1072,1611.6) scale(4.2,-2.107)">
<path class="c5" d="M-16.8,0 L-16.8,1.8 -14.2,5.6 -11.8,14.5 -9.5,34.9 -7.1,57.8 -4.7,66.8 -3.2,68.5 -1.6,60.4 0.8,45.1 3.2,32.4 5.5,24.7 8.7,20.9 11.1,17.1 13.4,10.7 15.8,4.8 17.7,2.3 L17.7,0 Z"/>
<polyline class="o" points="-16.8,1.8 -14.2,5.6 -11.8,14.5 -9.5,34.9 -7.1,57.8 -4.7,66.8 -3.2,68.5 -1.6,60.4 0.8,45.1 3.2,32.4 5.5,24.7 8.7,20.9 11.1,17.1 13.4,10.7 15.8,4.8 17.7,2.3"/>
</g>

<!-- ===== Row 7: Yahoo ===== -->
<g transform="translate(183.3,1823.7) scale(5.8,-2)">
<path class="c0" d="M-9.5,0 L-9.5,17 -8.0,29.1 -6.3,45.3 -4.5,58.8 -3.1,66.4 -2.2,67.7 -0.8,64.2 0.6,56.1 2.3,44 4.0,34.5 6.25,26.4 8.5,22.4 10.8,20.5 12.5,18.9 14.2,14.3 15.5,10.3 L15.5,0 Z"/>
<polyline class="o" points="-9.5,17 -8.0,29.1 -6.3,45.3 -4.5,58.8 -3.1,66.4 -2.2,67.7 -0.8,64.2 0.6,56.1 2.3,44 4.0,34.5 6.25,26.4 8.5,22.4 10.8,20.5 12.5,18.9 14.2,14.3 15.5,10.3"/>
</g>
<g transform="translate(358.3,1823.7) scale(7.55,-2)">
<path class="c1" d="M-7.3,0 L-7.3,31.8 -5.9,53.4 -4.6,65.6 -3.3,69.6 -2.0,73.6 -0.7,80.4 0.35,85.8 1.0,87.7 1.9,84.4 3.0,70.9 4.1,53.4 5.4,31.8 6.7,23.2 8.0,18.3 9.7,8.9 11.9,1.6 L11.9,0 Z"/>
<polyline class="o" points="-7.3,31.8 -5.9,53.4 -4.6,65.6 -3.3,69.6 -2.0,73.6 -0.7,80.4 0.35,85.8 1.0,87.7 1.9,84.4 3.0,70.9 4.1,53.4 5.4,31.8 6.7,23.2 8.0,18.3 9.7,8.9 11.9,1.6"/>
</g>
<g transform="translate(552,1823.7) scale(4.07,-2)">
<path class="c2" d="M-18.6,0 L-18.6,12.9 -16.6,22.4 -14.2,39.9 -12.1,50.7 -10.6,52.1 -9.0,46.7 -6.9,38.6 -4.4,37.8 -2.0,39.9 -0.2,37.2 2.3,25.1 4.7,17 8.0,12.9 11.3,8.9 14.5,4.9 17.3,1.6 L17.3,0 Z"/>
<polyline class="o" points="-18.6,12.9 -16.6,22.4 -14.2,39.9 -12.1,50.7 -10.6,52.1 -9.0,46.7 -6.9,38.6 -4.4,37.8 -2.0,39.9 -0.2,37.2 2.3,25.1 4.7,17 8.0,12.9 11.3,8.9 14.5,4.9 17.3,1.6"/>
</g>
<g transform="translate(707.5,1823.7) scale(3.75,-2)">
<path class="c3" d="M-14.7,0 L-14.7,0.3 -12.1,2.2 -10,7.6 -7.8,21 -5.5,42.6 -3.2,64.2 -1.4,80.4 -0.4,83.6 1.1,72.3 3.4,42.6 5.7,21 7.8,10.3 10.5,4.3 12.8,5.4 14.9,8.9 16.7,8.9 19.0,6.2 23.8,4.3 L23.8,0 Z"/>
<polyline class="o" points="-14.7,0.3 -12.1,2.2 -10,7.6 -7.8,21 -5.5,42.6 -3.2,64.2 -1.4,80.4 -0.4,83.6 1.1,72.3 3.4,42.6 5.7,21 7.8,10.3 10.5,4.3 12.8,5.4 14.9,8.9 16.7,8.9 19.0,6.2 23.8,4.3"/>
</g>
<g transform="translate(911.5,1823.7) scale(5,-2)">
<path class="c4" d="M-17,0 L-17,0.8 -15.1,3.5 -13.1,11.6 -11.1,17.8 -9.1,18.9 -7.1,29.1 -5.2,53.4 -3.4,75 -1.8,85.2 -0.8,89 0.5,83.1 2.1,58.8 3.7,45.3 5.4,37.2 7.4,19.7 9.4,7.6 12.0,1.6 L12.0,0 Z"/>
<polyline class="o" points="-17,0.8 -15.1,3.5 -13.1,11.6 -11.1,17.8 -9.1,18.9 -7.1,29.1 -5.2,53.4 -3.4,75 -1.8,85.2 -0.8,89 0.5,83.1 2.1,58.8 3.7,45.3 5.4,37.2 7.4,19.7 9.4,7.6 12.0,1.6"/>
</g>
<g transform="translate(1072,1823.7) scale(4.2,-2)">
<path class="c5" d="M-16.8,0 L-16.8,0.8 -14.2,4.9 -11.8,12.9 -9.5,29.1 -7.1,53.4 -5.8,62.9 -4.7,66.9 -3.2,61.5 -1.6,57.5 0,58.3 1.1,52.1 3.2,31.8 5.5,19.7 8.7,17.8 11.1,15.6 13.4,10.3 15.8,3.5 17.7,1.6 L17.7,0 Z"/>
<polyline class="o" points="-16.8,0.8 -14.2,4.9 -11.8,12.9 -9.5,29.1 -7.1,53.4 -5.8,62.9 -4.7,66.9 -3.2,61.5 -1.6,57.5 0,58.3 1.1,52.1 3.2,31.8 5.5,19.7 8.7,17.8 11.1,15.6 13.4,10.3 15.8,3.5 17.7,1.6"/>
</g>

<!-- dashed zero lines -->
<defs>
<g id="dz" class="dz">
<line x1="183.3" y1="0" x2="183.3" y2="197.4"/>
<line x1="358.3" y1="0" x2="358.3" y2="197.4"/>
<line x1="552" y1="0" x2="552" y2="197.4"/>
<line x1="707.5" y1="0" x2="707.5" y2="197.4"/>
<line x1="911.5" y1="0" x2="911.5" y2="197.4"/>
<line x1="1072" y1="0" x2="1072" y2="197.4"/>
</g>
</defs>
<use href="#dz" x="0" y="151"/>
<use href="#dz" x="0" y="363.04"/>
<use href="#dz" x="0" y="575.08"/>
<use href="#dz" x="0" y="787.12"/>
<use href="#dz" x="0" y="999.16"/>
<use href="#dz" x="0" y="1211.2"/>
<use href="#dz" x="0" y="1423.24"/>
<use href="#dz" x="0" y="1635.28"/>

<!-- titles -->
<text x="121" y="41" font-size="34" fill="#000">Error Distribution</text>
<text x="121" y="84.5" font-size="28.4" fill="#000">By Position and Source Site</text>

<!-- top strip labels -->
<text class="st" x="201" y="137.6">DEF</text>
<text class="st" x="375.6" y="137.6">K</text>
<text class="st" x="550.2" y="137.6">QB</text>
<text class="st" x="724.8" y="137.6">RB</text>
<text class="st" x="899.4" y="137.6">TE</text>
<text class="st" x="1074" y="137.6">WR</text>

<!-- right strip labels -->
<text class="st" x="1240" y="257.8">CBS</text>
<text class="st" x="1240" y="469.8">FantasyPros</text>
<text class="st" x="1240" y="681.9">FantasySharks</text>
<text class="st" x="1240" y="893.9">FFToday</text>
<text class="st" x="1240" y="1106">FleaFlicker</text>
<text class="st" x="1240" y="1318">NFL</text>
<text class="st" x="1240" y="1530">NumberFire</text>
<text class="st" x="1240" y="1742.1">Yahoo</text>

<!-- y tick labels -->
<text class="yt" x="107" y="347.5">0.00</text><text class="yt" x="107" y="304.4">0.02</text><text class="yt" x="107" y="261.3">0.04</text><text class="yt" x="107" y="218.2">0.06</text><text class="yt" x="107" y="175.1">0.08</text>
<text class="yt" x="107" y="559.5">0.000</text><text class="yt" x="107" y="515.3">0.025</text><text class="yt" x="107" y="471.1">0.050</text><text class="yt" x="107" y="426.9">0.075</text><text class="yt" x="107" y="382.7">0.100</text>
<text class="yt" x="107" y="771.6">0.000</text><text class="yt" x="107" y="719.6">0.025</text><text class="yt" x="107" y="667.6">0.050</text><text class="yt" x="107" y="615.6">0.075</text>
<text class="yt" x="107" y="983.6">0.000</text><text class="yt" x="107" y="931.6">0.025</text><text class="yt" x="107" y="879.6">0.050</text><text class="yt" x="107" y="827.6">0.075</text>
<text class="yt" x="107" y="1195.7">0.00</text><text class="yt" x="107" y="1145.7">0.02</text><text class="yt" x="107" y="1095.7">0.04</text><text class="yt" x="107" y="1045.7">0.06</text>
<text class="yt" x="107" y="1407.7">0.000</text><text class="yt" x="107" y="1361.1">0.025</text><text class="yt" x="107" y="1314.5">0.050</text><text class="yt" x="107" y="1267.9">0.075</text><text class="yt" x="107" y="1221.3">0.100</text>
<text class="yt" x="107" y="1619.7">0.00</text><text class="yt" x="107" y="1577.6">0.02</text><text class="yt" x="107" y="1535.4">0.04</text><text class="yt" x="107" y="1493.3">0.06</text><text class="yt" x="107" y="1451.1">0.08</text>
<text class="yt" x="107" y="1831.8">0.000</text><text class="yt" x="107" y="1781.8">0.025</text><text class="yt" x="107" y="1731.8">0.050</text><text class="yt" x="107" y="1681.8">0.075</text>

<!-- x tick labels -->
<text class="xt" x="125.3" y="1865">-10</text><text class="xt" x="183.3" y="1865">0</text><text class="xt" x="241.3" y="1865">10</text>
<text class="xt" x="320.55" y="1865">-5</text><text class="xt" x="358.3" y="1865">0</text><text class="xt" x="396.05" y="1865">5</text><text class="xt" x="433.8" y="1865">10</text>
<text class="xt" x="470.6" y="1865">-20</text><text class="xt" x="511.3" y="1865">-10</text><text class="xt" x="552" y="1865">0</text><text class="xt" x="592.7" y="1865">10</text>
<text class="xt" x="670" y="1865">-10</text><text class="xt" x="707.5" y="1865">0</text><text class="xt" x="745" y="1865">10</text><text class="xt" x="782.5" y="1865">20</text>
<text class="xt" x="861.5" y="1865">-10</text><text class="xt" x="911.5" y="1865">0</text><text class="xt" x="961.5" y="1865">10</text>
<text class="xt" x="1030" y="1865">-10</text><text class="xt" x="1072" y="1865">0</text><text class="xt" x="1114" y="1865">10</text>

<!-- axis titles -->
<text x="637.5" y="1902" font-size="28.4" fill="#000" text-anchor="middle">error</text>
<text transform="translate(38,991) rotate(-90)" font-size="28.4" fill="#000" text-anchor="middle">density</text>
</svg>
<script>
(function(){
  var ns = "http://www.w3.org/2000/svg";
  function f(v){return Math.round(v*1000)/1000;}
  function smooth(p){
    var d = "";
    var n = p.length;
    for (var i = 0; i < n - 1; i++) {
      var p0 = p[i > 0 ? i - 1 : i], p1 = p[i], p2 = p[i + 1], p3 = p[i + 2 < n ? i + 2 : i + 1];
      var c1x = p1[0] + (p2[0] - p0[0]) / 6, c1y = p1[1] + (p2[1] - p0[1]) / 6;
      var c2x = p2[0] - (p3[0] - p1[0]) / 6, c2y = p2[1] - (p3[1] - p1[1]) / 6;
      if (c1y < 0) c1y = 0; if (c2y < 0) c2y = 0;
      d += " C" + f(c1x) + "," + f(c1y) + " " + f(c2x) + "," + f(c2y) + " " + p2[0] + "," + p2[1];
    }
    return d;
  }
  try {
    var pls = document.querySelectorAll("polyline.o");
    for (var k = 0; k < pls.length; k++) {
      var pl = pls[k];
      var pts = pl.getAttribute("points").trim().split(/\s+/).map(function(s){return s.split(",").map(Number);});
      var n = pts.length;
      var body = smooth(pts);
      var path = document.createElementNS(ns, "path");
      path.setAttribute("class", "o");
      path.setAttribute("d", "M" + pts[0][0] + "," + pts[0][1] + body);
      var g = pl.parentNode;
      var fill = g.querySelector("path");
      if (fill) {
        fill.setAttribute("d", "M" + pts[0][0] + ",0 L" + pts[0][0] + "," + pts[0][1] + body + " L" + pts[n-1][0] + ",0 Z");
      }
      g.replaceChild(path, pl);
    }
  } catch (e) {}
})();
</script>
</body>
</html>
